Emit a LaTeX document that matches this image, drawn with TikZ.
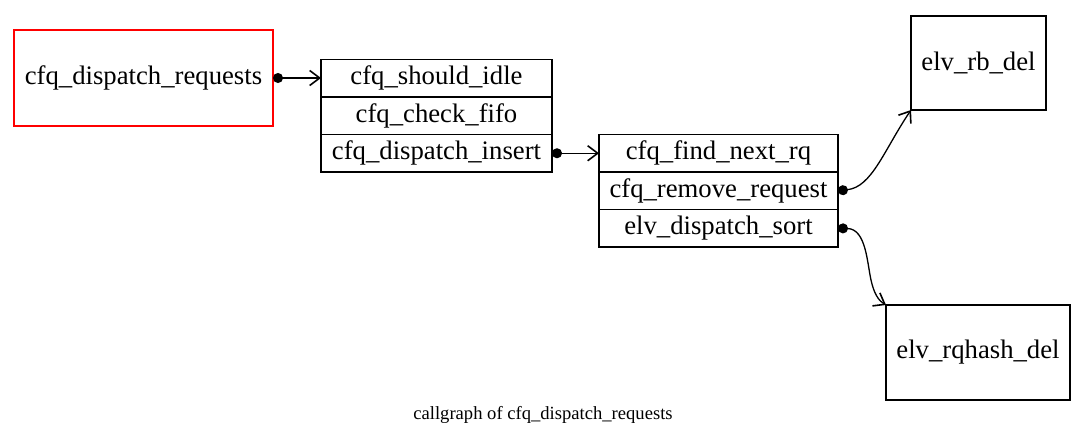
\documentclass[tikz,border=0pt]{standalone}
\usepackage{fontspec}
\setmainfont{Liberation Serif}
\usetikzlibrary{arrows.meta}
\begin{document}
\begin{tikzpicture}[x=1pt,y=-1pt,
  every node/.style={inner sep=0pt,outer sep=0pt},
  lbl/.style={font=\fontsize{26.7}{32}\selectfont},
  fbox/.style={draw,line width=1.25pt,lbl},
  rowbox/.style={draw,line width=1.25pt,lbl,minimum height=37.5pt,anchor=north west},
  call/.style={line width=1.3pt,{Circle[length=10pt]}-{Straight Barb[length=10pt,width=15pt,line width=1.6pt]}}]
\useasboundingbox (0,0) rectangle (1086,446);
\node[fbox,draw=red,minimum width=259pt,minimum height=96pt,anchor=north west] (root) at (14,30) {cfq\_dispatch\_requests};
% record 1
\node[rowbox,minimum width=231pt] (a1) at (321,59.5) {cfq\_should\_idle};
\node[rowbox,minimum width=231pt] (a2) at (321,97) {cfq\_check\_fifo};
\node[rowbox,minimum width=231pt] (a3) at (321,134.5) {cfq\_dispatch\_insert};
% record 2
\node[rowbox,minimum width=239pt] (b1) at (599,134.5) {cfq\_find\_next\_rq};
\node[rowbox,minimum width=239pt] (b2) at (599,172) {cfq\_remove\_request};
\node[rowbox,minimum width=239pt] (b3) at (599,209.5) {elv\_dispatch\_sort};
% leaves
\node[fbox,minimum width=135pt,minimum height=94pt,anchor=north west] (rb) at (911,16) {elv\_rb\_del};
\node[fbox,minimum width=184pt,minimum height=95pt,anchor=north west] (rq) at (886,305) {elv\_rqhash\_del};
% caption
\node[font=\fontsize{18.6}{22}\selectfont] (cap) at (543,415) {callgraph of cfq\_dispatch\_requests};
% edges
\draw[call] (root.east) -- (root.east -| a1.west);
\draw[call] (a3.east) -- (b1.west);
\draw[call] (b2.east) .. controls (872,187) and (884,150) .. (rb.south west);
\draw[call] (b3.east) .. controls (866,229) and (867,262) .. (871,280) .. controls (874,294) and (879,301) .. (rq.north west);
\end{tikzpicture}
\end{document}
